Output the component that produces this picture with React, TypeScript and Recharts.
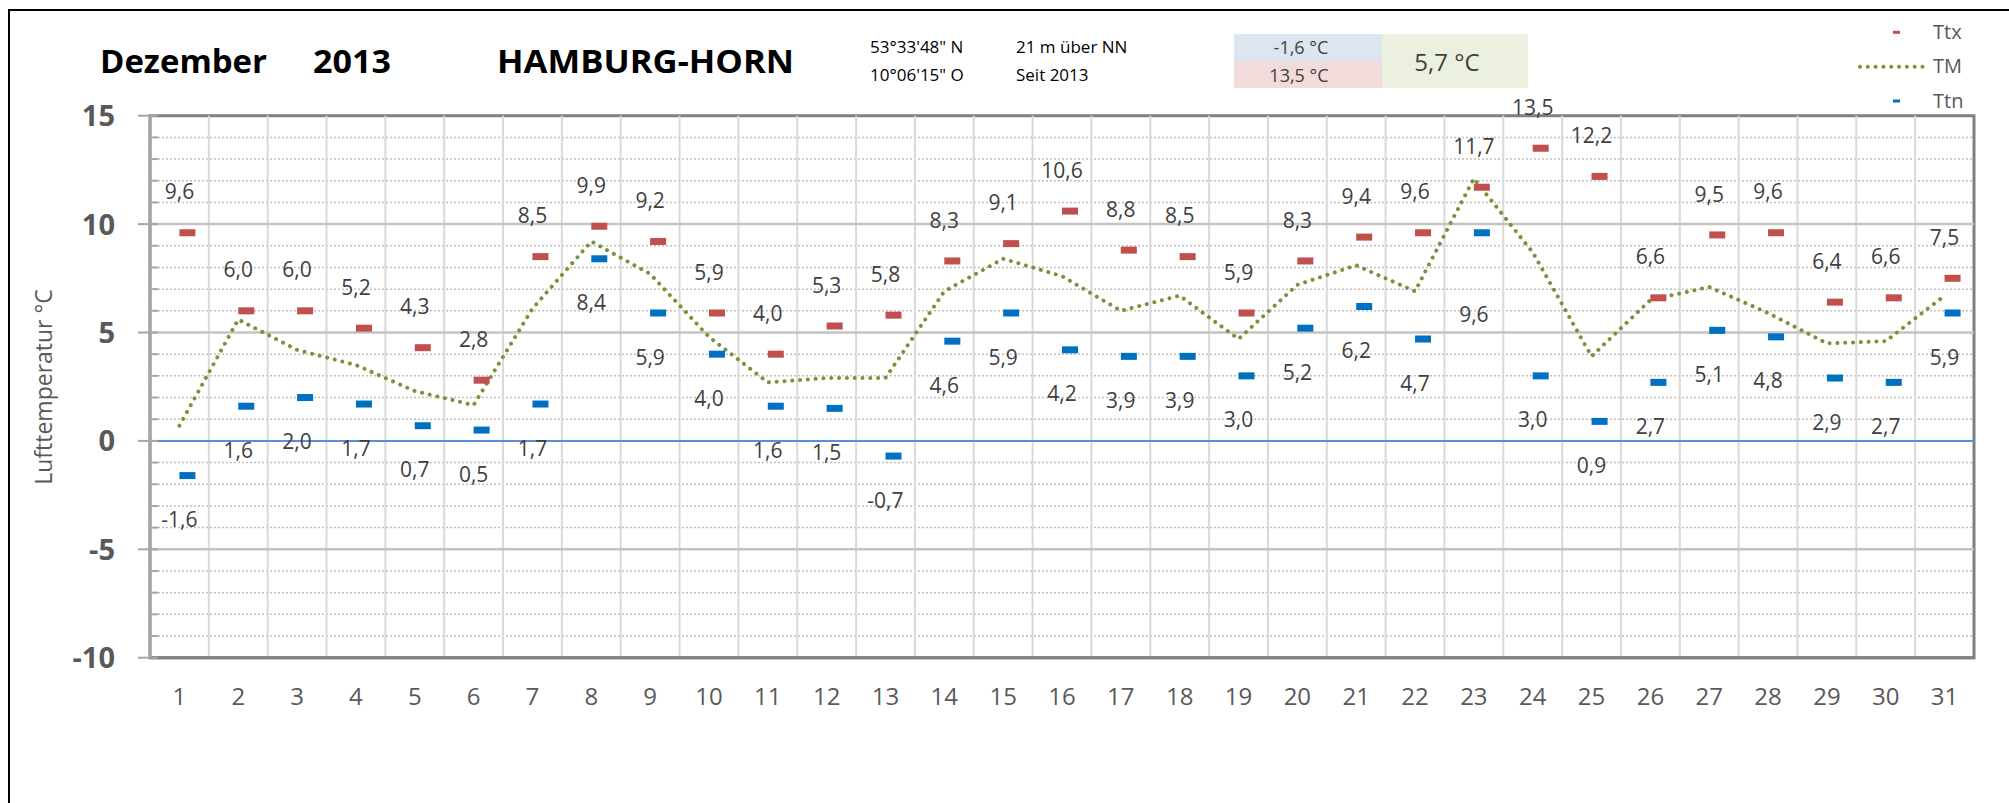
import React from 'react';
import { ComposedChart, XAxis, YAxis, Scatter, Line, ReferenceLine, ReferenceArea } from 'recharts';

const days = [1, 2, 3, 4, 5, 6, 7, 8, 9, 10, 11, 12, 13, 14, 15, 16, 17, 18, 19, 20, 21, 22, 23, 24, 25, 26, 27, 28, 29, 30, 31];
const ttx = [9.6, 6.0, 6.0, 5.2, 4.3, 2.8, 8.5, 9.9, 9.2, 5.9, 4.0, 5.3, 5.8, 8.3, 9.1, 10.6, 8.8, 8.5, 5.9, 8.3, 9.4, 9.6, 11.7, 13.5, 12.2, 6.6, 9.5, 9.6, 6.4, 6.6, 7.5];
const ttn = [-1.6, 1.6, 2.0, 1.7, 0.7, 0.5, 1.7, 8.4, 5.9, 4.0, 1.6, 1.5, -0.7, 4.6, 5.9, 4.2, 3.9, 3.9, 3.0, 5.2, 6.2, 4.7, 9.6, 3.0, 0.9, 2.7, 5.1, 4.8, 2.9, 2.7, 5.9];
const tm = [0.7, 5.6, 4.2, 3.5, 2.3, 1.65, 6.1, 9.2, 7.7, 4.8, 2.7, 2.9, 2.9, 6.9, 8.4, 7.6, 6.0, 6.7, 4.7, 7.2, 8.1, 6.9, 12.1, 8.7, 3.9, 6.5, 7.1, 5.9, 4.5, 4.6, 6.7];

const yAllTicks = [-10, -9, -8, -7, -6, -5, -4, -3, -2, -1, 0, 1, 2, 3, 4, 5, 6, 7, 8, 9, 10, 11, 12, 13, 14, 15];
const yMajorGrid = [-5, 5, 10];
const yMinorGrid = [-9, -8, -7, -6, -4, -3, -2, -1, 1, 2, 3, 4, 6, 7, 8, 9, 11, 12, 13, 14];
const catBounds = [1.5, 2.5, 3.5, 4.5, 5.5, 6.5, 7.5, 8.5, 9.5, 10.5, 11.5, 12.5, 13.5, 14.5, 15.5, 16.5, 17.5, 18.5, 19.5, 20.5, 21.5, 22.5, 23.5, 24.5, 25.5, 26.5, 27.5, 28.5, 29.5, 30.5];

const seriesNames = ['Ttx', 'TM', 'Ttn'];
const titleMonth = 'Dezember';
const titleYear = '2013';
const station = 'HAMBURG-HORN';
const latitude = '53°33\'48" N';
const longitude = '10°06\'15" O';
const altitude = '21 m über NN';
const since = 'Seit 2013';
const yTitle = 'Lufttemperatur °C';

const data = days.map((d, i) => ({ day: d, ttx: ttx[i], ttn: ttn[i], tm: tm[i] }));

const FONT = "'Open Sans', 'Noto Sans', 'DejaVu Sans', sans-serif";
const RED = '#C0504D';
const BLUE = '#0070C0';
const GREEN = '#77933C';

const fmt = (v: number) => v.toFixed(1).replace('.', ',');

const minTtn = Math.min(...ttn);
const maxTtx = Math.max(...ttx);
const meanTm = tm.reduce((a, b) => a + b, 0) / tm.length;

const MarkerShape = (color: string) => (props: any) => {
  const { cx, cy } = props;
  if (cx == null || cy == null) return <g />;
  return <rect x={cx} y={cy - 3.5} width={16} height={7} fill={color} />;
};

const LabelShape = (dir: 'up' | 'down') => (props: any) => {
  const { cx, cy, payload } = props;
  if (cx == null || cy == null) return <g />;
  const v = dir === 'up' ? payload.ttx : payload.ttn;
  let off = dir === 'up' ? -41 : 44;
  if (dir === 'down' && payload.day === 23) off = 82;
  return (
    <text x={cx} y={cy + off} dy="0.36em" textAnchor="middle" fontFamily={FONT} fontSize={21} fill="#404040">
      {fmt(v)}
    </text>
  );
};

const YTick = (props: any) => {
  const { x, y, payload } = props;
  const v = payload.value;
  const major = v % 5 === 0;
  return (
    <g>
      <line x1={x + 1} x2={x + 8} y1={y} y2={y} stroke="#A6A6A6" strokeWidth={2} />
      {major && <line x1={x - 12} x2={x} y1={y} y2={y} stroke="#A6A6A6" strokeWidth={2} />}
      {major && (
        <text x={x - 35} y={y} dy="0.36em" textAnchor="end" fontFamily={FONT} fontWeight={700} fontSize={29} fill="#595959">
          {v}
        </text>
      )}
    </g>
  );
};

const XTick = (props: any) => {
  const { x, y, payload } = props;
  return (
    <text x={x} y={y + 39} dy="0.36em" textAnchor="middle" fontFamily={FONT} fontSize={24} fill="#595959">
      {payload.value}
    </text>
  );
};

export default function App() {
  return (
    <div style={{ position: 'absolute', left: 0, top: 0, width: 2009, height: 803, background: '#fff', overflow: 'hidden' }}>
      <ComposedChart
        width={2009}
        height={803}
        data={data}
        margin={{ top: 115.7, right: 35, bottom: 105.3, left: 0 }}
      >
        <XAxis
          dataKey="day"
          type="number"
          domain={[0.5, 31.5]}
          ticks={days}
          interval={0}
          height={40}
          tickLine={false}
          tickSize={0}
          tickMargin={0}
          axisLine={{ stroke: '#808080', strokeWidth: 3 }}
          tick={<XTick />}
        />
        <YAxis
          type="number"
          domain={[-10, 15]}
          ticks={yAllTicks}
          interval={0}
          width={150}
          tickLine={false}
          tickSize={0}
          tickMargin={0}
          axisLine={{ stroke: '#A6A6A6', strokeWidth: 3 }}
          tick={<YTick />}
        />
        {yMinorGrid.map((v) => (
          <ReferenceLine key={'mi' + v} y={v} stroke="#BFBFBF" strokeWidth={1.5} strokeDasharray="2 2" />
        ))}
        {catBounds.map((v) => (
          <ReferenceLine key={'vx' + v} x={v} stroke="#D9D9D9" strokeWidth={2} />
        ))}
        {yMajorGrid.map((v) => (
          <ReferenceLine key={'ma' + v} y={v} stroke="#C4C4C4" strokeWidth={2.5} />
        ))}
        <ReferenceLine y={0} stroke="#5B8FD4" strokeWidth={2} />
        <ReferenceArea x1={0.5} x2={31.5} y1={-10} y2={15} fill="none" stroke="#808080" strokeWidth={3} />
        <Scatter data={data} dataKey="ttx" name={seriesNames[0]} shape={MarkerShape(RED)} isAnimationActive={false} />
        <Scatter data={data} dataKey="ttn" name={seriesNames[2]} shape={MarkerShape(BLUE)} isAnimationActive={false} />
        <Line
          dataKey="tm"
          name={seriesNames[1]}
          type="linear"
          stroke={GREEN}
          strokeWidth={4}
          strokeDasharray="0.01 7.8"
          strokeLinecap="round"
          dot={false}
          activeDot={false}
          isAnimationActive={false}
        />
        <Scatter data={data} dataKey="ttx" shape={LabelShape('up')} isAnimationActive={false} legendType="none" />
        <Scatter data={data} dataKey="ttn" shape={LabelShape('down')} isAnimationActive={false} legendType="none" />
      </ComposedChart>

      <svg width={2009} height={803} style={{ position: 'absolute', left: 0, top: 0, pointerEvents: 'none' }}>
        <rect x={9} y={10} width={2100} height={900} fill="none" stroke="#000" strokeWidth={2} />

        <text x={100} y={73} fontFamily={FONT} fontWeight={700} fontSize={33} fill="#000" textLength={167} lengthAdjust="spacingAndGlyphs">{titleMonth}</text>
        <text x={313} y={73} fontFamily={FONT} fontWeight={700} fontSize={33} fill="#000" textLength={78} lengthAdjust="spacingAndGlyphs">{titleYear}</text>
        <text x={497} y={73} fontFamily={FONT} fontWeight={700} fontSize={33} fill="#000" textLength={297} lengthAdjust="spacingAndGlyphs">{station}</text>

        <text x={870} y={46.7} dy="0.36em" fontFamily={FONT} fontSize={17} fill="#000">{latitude}</text>
        <text x={870} y={75} dy="0.36em" fontFamily={FONT} fontSize={17} fill="#000">{longitude}</text>
        <text x={1016} y={46.7} dy="0.36em" fontFamily={FONT} fontSize={17} fill="#000">{altitude}</text>
        <text x={1016} y={75} dy="0.36em" fontFamily={FONT} fontSize={17} fill="#000">{since}</text>

        <rect x={1234} y={34} width={148} height={27} fill="#DCE6F1" />
        <rect x={1234} y={61} width={148} height={27} fill="#F2DCDB" />
        <rect x={1382} y={34} width={146} height={54} fill="#EBF1DE" />
        <text x={1301} y={48} dy="0.36em" textAnchor="middle" fontFamily={FONT} fontSize={18} fill="#404040">{fmt(minTtn) + ' °C'}</text>
        <text x={1299} y={76} dy="0.36em" textAnchor="middle" fontFamily={FONT} fontSize={18} fill="#404040">{fmt(maxTtx) + ' °C'}</text>
        <text x={1447} y={62} dy="0.36em" textAnchor="middle" fontFamily={FONT} fontSize={24} fill="#404040">{fmt(meanTm) + ' °C'}</text>

        <rect x={1893} y={30.8} width={7} height={3} fill={RED} />
        <line x1={1860} x2={1927} y1={66.7} y2={66.7} stroke={GREEN} strokeWidth={4} strokeDasharray="0.01 7.8" strokeLinecap="round" />
        <rect x={1893} y={99.5} width={7} height={3} fill={BLUE} />
        <text x={1933} y={32} dy="0.36em" fontFamily={FONT} fontSize={20} fill="#595959">{seriesNames[0]}</text>
        <text x={1933} y={66} dy="0.36em" fontFamily={FONT} fontSize={20} fill="#595959">{seriesNames[1]}</text>
        <text x={1933} y={101} dy="0.36em" fontFamily={FONT} fontSize={20} fill="#595959">{seriesNames[2]}</text>

        <text x={44} y={387} dy="0.36em" transform="rotate(-90 44 387)" textAnchor="middle" fontFamily={FONT} fontSize={23} fill="#595959">{yTitle}</text>
      </svg>
    </div>
  );
}
